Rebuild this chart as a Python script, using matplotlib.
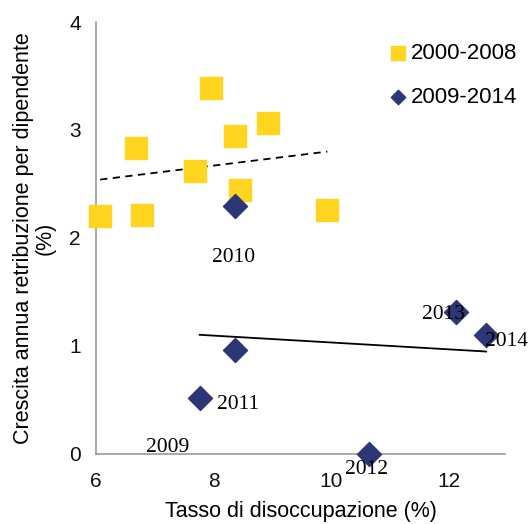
import numpy as np
import matplotlib.pyplot as plt

# 2000-2008
x_a = [6.07, 6.78, 6.68, 7.95, 7.68, 8.36, 8.44, 8.93, 9.93]
y_a = [2.20, 2.21, 2.83, 3.39, 2.62, 2.94, 2.44, 3.06, 2.26]

# 2009-2014
x_b = [8.36, 8.36, 7.76, 10.64, 12.12, 12.63]
y_b = [2.30, 0.96, 0.52, 0.00, 1.31, 1.10]

years = ["2009", "2010", "2011", "2012", "2013", "2014"]
# where the year labels sit (data coords)
lab_x = [7.21, 8.34, 8.41, 10.60, 11.90, 12.98]
lab_y = [0.055, 1.82, 0.46, -0.15, 1.29, 1.04]

yellow = "#FFD520"
navy = "#2E3776"

plt.rcParams["font.family"] = "Liberation Sans"

fig = plt.figure(figsize=(5.31, 5.24), dpi=100)
ax = fig.add_axes([0.181, 0.134, 0.77, 0.824])

ax.scatter(x_a, y_a, marker="s", s=260, color=yellow, label="2000-2008", zorder=3)
ax.scatter(x_b, y_b, marker="D", s=150, color=navy, label="2009-2014", zorder=3)

# linear trends
xa = np.array([min(x_a), max(x_a)])
pa = np.polyfit(x_a, y_a, 1)
ax.plot(xa, np.polyval(pa, xa), color="black", ls=(0, (4, 3)), lw=1.3, zorder=2)
xb = np.array([min(x_b), max(x_b)])
pb = np.polyfit(x_b, y_b, 1)
ax.plot(xb, np.polyval(pb, xb), color="black", lw=1.3, zorder=2)

for t, tx, ty in zip(years, lab_x, lab_y):
    ax.text(tx, ty, t, family="Liberation Serif", fontsize=15.5, ha="center", va="center", zorder=4)

ax.set_xlim(6, 12.95)
ax.set_ylim(0, 4)
ax.set_xticks([6, 8, 10, 12])
ax.set_yticks([0, 1, 2, 3, 4])
ax.tick_params(length=0, labelsize=15, labelcolor="#111111")
ax.tick_params(axis="x", pad=13)
ax.tick_params(axis="y", pad=11)
for s in ["top", "right"]:
    ax.spines[s].set_visible(False)
for s in ["left", "bottom"]:
    ax.spines[s].set_color("#999999")
    ax.spines[s].set_linewidth(1.2)

ax.set_xlabel("Tasso di disoccupazione (%)", fontsize=15.5, labelpad=7)
ax.set_ylabel("Crescita annua retribuzione per dipendente\n(%)", fontsize=15.5,
              labelpad=10, linespacing=1.0)

ax.legend(loc="upper left", bbox_to_anchor=(0.69, 0.973), frameon=False,
          prop={"family": "Liberation Sans", "size": 16},
          handlelength=1.0, handletextpad=0.05, labelspacing=1.05,
          markerscale=0.6, borderaxespad=0)

for c in ax.collections:
    c.set_clip_on(False)

fig.savefig("out.png", dpi=100)
